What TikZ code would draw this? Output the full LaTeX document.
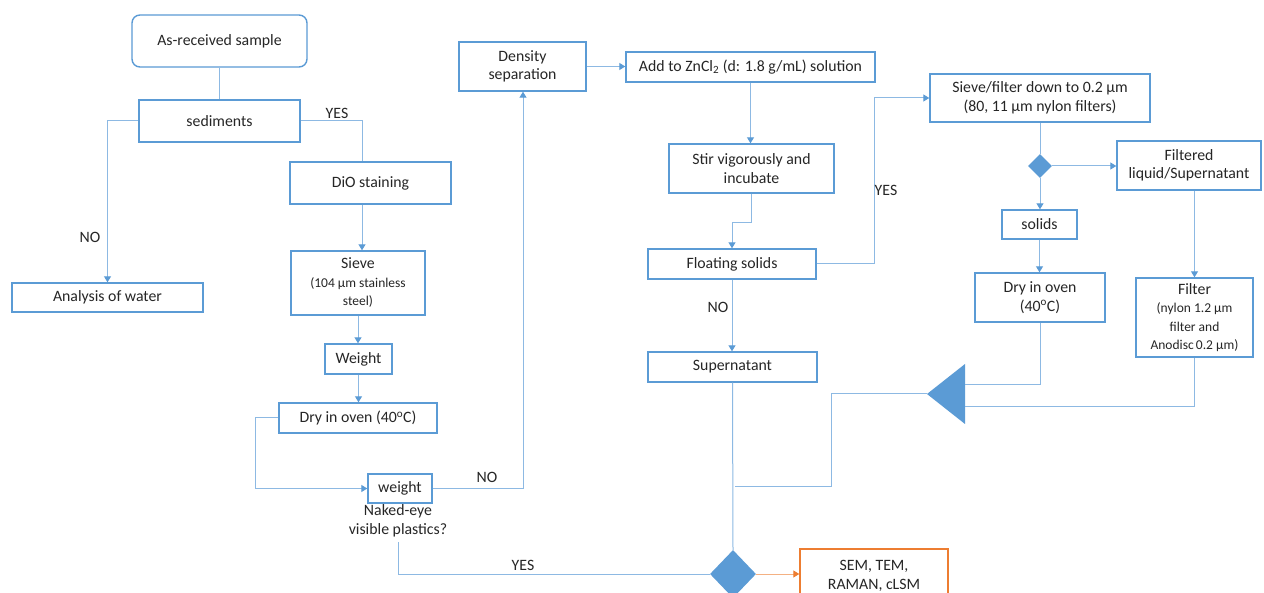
\documentclass[tikz,border=0pt]{standalone}
\usepackage{fontspec}
\setmainfont{Carlito}
\usetikzlibrary{arrows.meta,shapes.geometric,calc}
\definecolor{boxblue}{HTML}{5B9BD5}
\definecolor{connblue}{HTML}{8DB9E3}
\definecolor{orng}{HTML}{ED7D31}
\newcommand\mainsz{\fontsize{15.8}{18.5}\selectfont}
\newcommand\smallsz{\fontsize{13.5}{18}\selectfont}
\begin{document}
\begin{tikzpicture}[x=1pt,y=-1pt,
  box/.style={draw=boxblue, line width=1.4pt, inner sep=0pt, align=center, font=\mainsz, text=black!85},
  conn/.style={draw=connblue, line width=1pt},
  arr/.style={conn, -{Triangle[length=6pt,width=7pt,color=boxblue,fill=boxblue]}},
  lbl/.style={font=\mainsz, inner sep=0pt, align=center, text=black!85},
  dec/.style={diamond, fill=boxblue, inner sep=0pt}]
\clip (0,0) rectangle (1264,593);
\fill[white] (0,0) rectangle (1264,593);
% left column
\node[box, rounded corners=8pt, minimum width=175, minimum height=52] (asr) at (219.5,41) {As-received sample};
\node[box, minimum width=161, minimum height=42] (sed) at (219.5,121) {sediments};
\node[box, minimum width=191, minimum height=29] (water) at (107.5,297.5) {Analysis of water};
\node[box, minimum width=161, minimum height=42] (dio) at (370.5,183) {DiO staining};
\node[box, minimum width=134, minimum height=64] (sieve) at (358,283) {Sieve\\{\smallsz (104 µm stainless}\\{\smallsz steel)}};
\node[box, minimum width=67, minimum height=30] (weight1) at (358.5,359) {Weight};
\node[box, minimum width=158, minimum height=30] (dry1) at (358,418) {Dry in oven (40\textsuperscript{o}C)};
\node[box, minimum width=64, minimum height=29] (weight2) at (400,488.5) {weight};
\node[lbl] (naked) at (398,521) {Naked-eye\\visible plastics?};
% middle column
\node[box, minimum width=127, minimum height=49] (dens) at (522.5,66.5) {Density\\separation};
\node[box, minimum width=249, minimum height=30] (add) at (750.5,67) {Add to ZnCl\textsubscript{2} (d: 1.8 g/mL) solution};
\node[box, minimum width=165, minimum height=49] (stir) at (751.5,168.5) {Stir vigorously and\\incubate};
\node[box, minimum width=168, minimum height=30] (float) at (732,264) {Floating solids};
\node[box, minimum width=169, minimum height=30] (super) at (732.5,367) {Supernatant};
\node[dec, minimum width=46, minimum height=48] (d2) at (733,574) {};
\node[box, draw=orng, minimum width=148, minimum height=54] (sem) at (874,576) {SEM, TEM,\\RAMAN, cLSM};
% right column
\node[box, minimum width=220, minimum height=48] (sf) at (1040,98) {Sieve/filter down to 0.2 µm\\(80, 11 µm nylon filters)};
\node[dec, minimum width=24, minimum height=24] (d1) at (1040,166) {};
\node[box, minimum width=144, minimum height=49] (filt) at (1189,165.5) {Filtered\\liquid/Supernatant};
\node[box, minimum width=75, minimum height=29] (solids) at (1039.5,224.5) {solids};
\node[box, minimum width=130, minimum height=49] (dry2) at (1040,297.5) {Dry in oven\\(40\textsuperscript{o}C)};
\node[box, minimum width=117, minimum height=79] (filter) at (1194.5,317.5) {Filter\\{\smallsz (nylon 1.2 µm}\\{\smallsz filter and}\\{\smallsz Anodisc\,0.2 µm)}};
% merge triangle
\coordinate (tapex) at (927,394);
\coordinate (tin1) at (965,385);
\coordinate (tin2) at (965,407);
\coordinate (tj) at (735,486);
\fill[boxblue] (tapex) -- (965,364) -- (965,424) -- cycle;
% connectors
\draw[conn] (asr.south) -- (sed.north);
\draw[arr] (sed.west) -| (water.north);
\draw[conn] (sed.east) -| ($(dio.north)+(-8.5,0)$);
\draw[arr] ($(dio.south)+(-8.5,0)$) -- ($(sieve.north)+(4,0)$);
\draw[arr] (sieve.south) -- (weight1.north -| sieve.south);
\draw[arr] (weight1.south) -- (dry1.north -| weight1.south);
\draw[arr] (dry1.west) -- ++(-23,0) |- (weight2.west);
\draw[arr] (weight2.east) -| ($(dens.south)+(0.5,0)$);
\draw[arr] (dens.east) -- (add.west |- dens.east);
\draw[arr] (add.south) -- (add.south |- stir.north);
\draw[arr] (stir.south) -- ++(0,29) -| (float.north);
\draw[arr] (float.east) -- ++(58,0) |- (sf.west);
\draw[arr] (float.south) -- (float.south |- super.north);
\draw[conn] (sf.south) -- (d1.north);
\draw[arr] (d1.east) -- (filt.west |- d1.east);
\draw[arr] (d1.south) -- (d1.south |- solids.north);
\draw[arr] (solids.south) -- (solids.south |- dry2.north);
\draw[arr] (filter.north |- filt.south) -- (filter.north);
\draw[conn] (dry2.south) |- (tin1);
\draw[conn] (filter.south) |- (tin2);
\draw[conn] (tapex) -| ($(tj)+(96,0)$) -- (tj);
\draw[conn] (super.south) -- (d2.north);
\draw[conn] ($(naked.south)+(0,5)$) |- (d2.west);
\draw[draw=orng!60, line width=1pt, -{Triangle[length=6pt,width=7pt,color=orng,fill=orng]}] (d2.east) -- (sem.west |- d2.east);
% labels
\node[lbl] (l1) at (337,113) {YES};
\node[lbl] (l2) at (90,237) {NO};
\node[lbl] (l3) at (487,477) {NO};
\node[lbl] (l4) at (523,565) {YES};
\node[lbl] (l5) at (886,190) {YES};
\node[lbl] (l6) at (718,307) {NO};
\end{tikzpicture}
\end{document}
